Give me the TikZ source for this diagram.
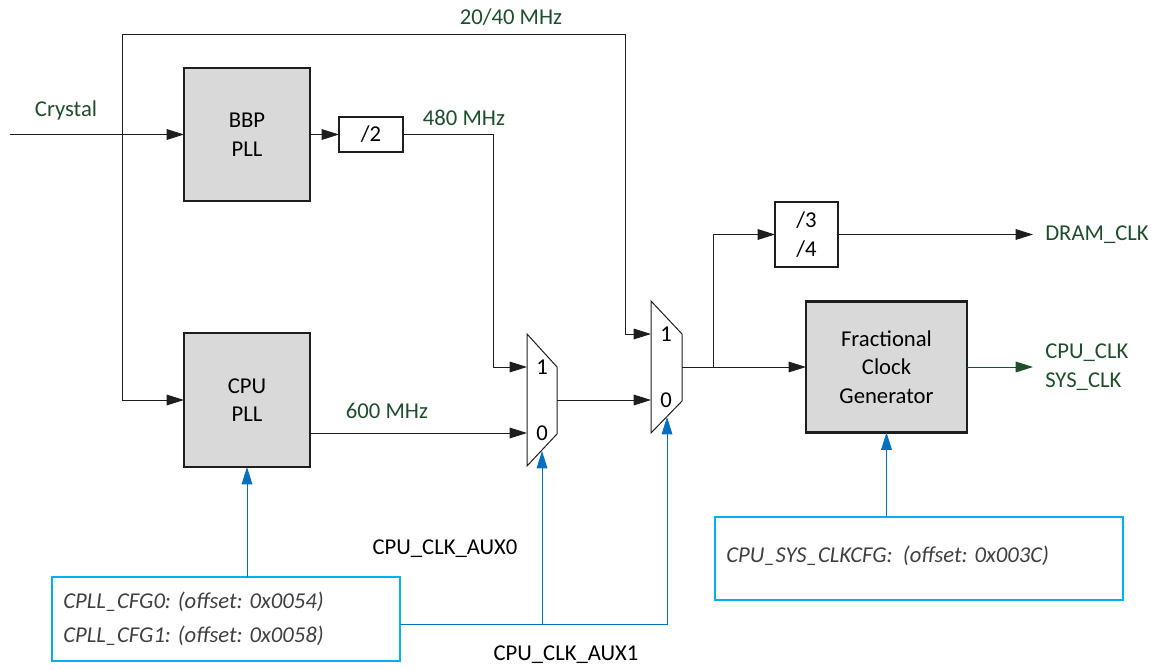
\documentclass[tikz,border=0pt]{standalone}
\usepackage{fontspec}
\setmainfont{Carlito}
\usetikzlibrary{arrows.meta,calc}
\definecolor{dgreen}{RGB}{31,78,44}
\definecolor{ln}{RGB}{30,30,30}
\definecolor{bl}{RGB}{0,112,192}
\definecolor{cy}{RGB}{0,176,240}
\definecolor{pllfill}{RGB}{217,217,217}
\definecolor{regtxt}{RGB}{64,64,64}
\begin{document}
\begin{tikzpicture}[x=0.75pt,y=-0.75pt,
  font=\fontsize{17}{21.5}\selectfont,
  conn/.style={draw=ln,line width=0.75pt},
  arr/.style={conn,-{Triangle[length=13pt,width=8pt]}},
  barr/.style={draw=bl,line width=0.75pt,-{Triangle[length=13pt,width=8pt]}},
  pll/.style={draw=ln,line width=2pt,fill=pllfill,inner sep=0pt,outer sep=0pt,align=center},
  divbox/.style={draw=ln,line width=2pt,fill=white,inner sep=0pt,outer sep=0pt,align=center},
  reg/.style={draw=cy,line width=2.2pt,inner sep=0pt,outer sep=0pt},
  lbl/.style={text=dgreen,inner sep=0pt},
  plain/.style={inner sep=0pt},
  regtext/.style={text=regtxt,inner sep=0pt,anchor=west,font=\fontsize{17}{21.5}\selectfont\itshape}]
\useasboundingbox (0,0) rectangle (1160,670);

% blocks
\node[pll,minimum width=94.5pt,minimum height=99.75pt] (bbp) at (247,134.5) {BBP\\PLL};
\node[pll,minimum width=94.5pt,minimum height=100.5pt] (cpu) at (247,400) {CPU\\PLL};
\node[divbox,minimum width=48pt,minimum height=26.25pt] (div2) at (371,134.5) {/2};
\node[divbox,minimum width=47.25pt,minimum height=48.75pt] (div34) at (806.5,234.5) {/3\\/4};
\node[pll,minimum width=120.75pt,minimum height=98.25pt] (frac) at (886.5,367) {Fractional\\Clock\\Generator};
\node[reg,minimum width=261pt,minimum height=63pt] (cpll) at (226,619) {};
\node[reg,minimum width=306pt,minimum height=62.25pt] (sysreg) at (919,558.5) {};
\node[regtext] (cfg0) at (63,602) {CPLL\_CFG0: (offset: 0x0054)};
\node[regtext] (cfg1) at (63,636) {CPLL\_CFG1: (offset: 0x0058)};
\node[regtext] (syscfg) at (726,556) {CPU\_SYS\_CLKCFG:\ \ (offset: 0x003C)};

% mux 1
\coordinate (m1a) at (527,334);
\coordinate (m1b) at (557,367);
\coordinate (m1c) at (557,434);
\coordinate (m1d) at (527,466);
\draw[conn] (m1a) -- (m1b) -- (m1c) -- (m1d) -- cycle;
\coordinate (m1in1) at (527,367);
\coordinate (m1in0) at (527,433);
\coordinate (m1out) at (557,400);
\coordinate (m1sel) at (542,451);
\node[plain] (m1l1) at (542,367) {1};
\node[plain] (m1l0) at (542,433) {0};

% mux 2
\coordinate (m2a) at (651,301);
\coordinate (m2b) at (682,334);
\coordinate (m2c) at (682,401);
\coordinate (m2d) at (651,433);
\draw[conn] (m2a) -- (m2b) -- (m2c) -- (m2d) -- cycle;
\coordinate (m2in1) at (651,334);
\coordinate (m2in0) at (651,400);
\coordinate (m2out) at (682,367);
\coordinate (m2sel) at (667,417);
\node[plain] (m2l1) at (666,334) {1};
\node[plain] (m2l0) at (666,400) {0};

% connectors
\coordinate (xin) at (10,134.5);
\coordinate (j1) at (122,134.5);
\draw[arr] (xin) -- (bbp.west);
\draw[arr] (j1) -- (122,35) -| (625,334) -- (m2in1);
\draw[arr] (j1) |- (cpu.west);
\draw[arr] (bbp.east) -- (div2.west);
\draw[arr] (div2.east) -| (493,367) -- (m1in1);
\draw[arr] (cpu.east |- m1in0) -- (m1in0);
\draw[arr] (m1out) -- (m2in0);
\coordinate (j2) at (713,367);
\draw[arr] (m2out) -- (frac.west);
\draw[arr] (j2) |- (div34.west);
\coordinate (dram) at (1033,234.5);
\draw[arr] (div34.east) -- (dram);
\coordinate (cpuo) at (1033,367);
\draw[arr,draw=dgreen] (frac.east) -- (cpuo);

% control (blue)
\draw[barr] (cpll.north -| cpu.south) -- (cpu.south);
\coordinate (bj) at ($(cpll.east)+(0,5)$);
\draw[barr] (bj) -| (m2sel);
\draw[barr] (m1sel |- bj) -- (m1sel);
\draw[barr] (sysreg.north -| frac.south) -- (frac.south);

% labels
\node[lbl] (crys) at (66,110) {Crystal};
\node[lbl] (f2040) at (511,17) {20/40 MHz};
\node[lbl] (f480) at (464,118) {480 MHz};
\node[lbl] (f600) at (387,411) {600 MHz};
\node[lbl,anchor=west] (dramlbl) at (1045,234.5) {DRAM\_CLK};
\node[lbl,anchor=west,align=left] (cpulbl) at (1045,367) {CPU\_CLK\\SYS\_CLK};
\node[plain] (aux0) at (445,549) {CPU\_CLK\_AUX0};
\node[plain] (aux1) at (566,655) {CPU\_CLK\_AUX1};
\end{tikzpicture}
\end{document}
